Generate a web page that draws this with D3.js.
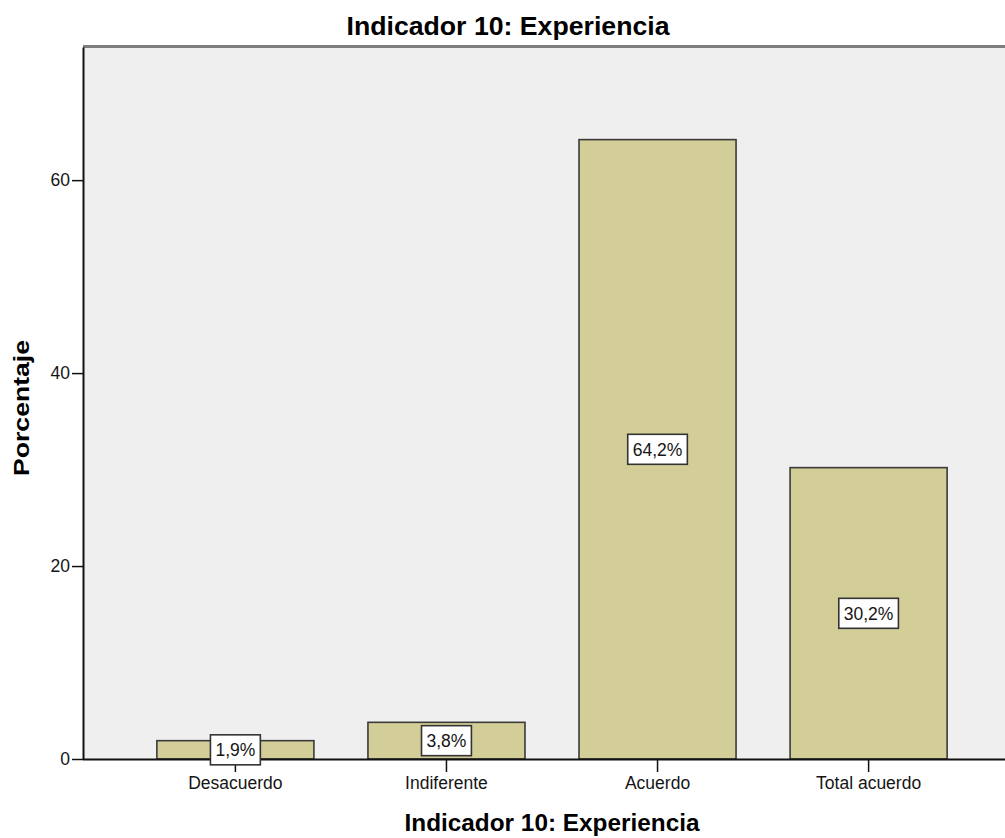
<!DOCTYPE html>
<html>
<head>
<meta charset="utf-8">
<script src="https://cdn.jsdelivr.net/npm/d3@7"></script>
<style>
  body { margin: 0; background: #fff; }
  text { font-family: "Liberation Sans", Arial, sans-serif; }
</style>
</head>
<body>
<div id="chart"></div>
<script>
// chart data
const categories = ["Desacuerdo", "Indiferente", "Acuerdo", "Total acuerdo"];
const percentages = [1.9, 3.8, 64.2, 30.2];
const valueLabels = ["1,9%", "3,8%", "64,2%", "30,2%"];
const yTicks = [0, 20, 40, 60];

const W = 1005, H = 838;
const plot = { left: 83, top: 47, bottom: 759, right: 1021 };

const svg = d3.select("#chart").append("svg")
  .attr("width", W)
  .attr("height", H);

// plot background
svg.append("rect")
  .attr("x", plot.left)
  .attr("y", plot.top)
  .attr("width", W - plot.left)
  .attr("height", plot.bottom - plot.top)
  .attr("fill", "#efefef");

svg.append("line")
  .attr("x1", plot.left).attr("x2", W)
  .attr("y1", plot.top - 0.5).attr("y2", plot.top - 0.5)
  .attr("stroke", "#7d7d7d")
  .attr("stroke-width", 3);

const x = d3.scaleBand()
  .domain(categories)
  .range([plot.left, plot.right])
  .paddingInner(0.256)
  .paddingOuter(0.35);

const y = d3.scaleLinear()
  .domain([0, 73.8])
  .range([plot.bottom, plot.top]);

// bars
svg.selectAll(".bar")
  .data(categories)
  .enter()
  .append("rect")
  .attr("class", "bar")
  .attr("x", d => x(d))
  .attr("y", (d, i) => y(percentages[i]))
  .attr("width", x.bandwidth())
  .attr("height", (d, i) => y(0) - y(percentages[i]))
  .attr("fill", "#d3ce97")
  .attr("stroke", "#3a3a3a")
  .attr("stroke-width", 1.6);

// axes
const xAxis = svg.append("g")
  .attr("transform", `translate(0, ${plot.bottom})`)
  .call(d3.axisBottom(x).tickSize(13).tickSizeOuter(0).tickPadding(5));
xAxis.select(".domain").attr("d", `M${plot.left},0.5H${W}`).attr("stroke", "#111").attr("stroke-width", 2);
xAxis.selectAll(".tick line").attr("stroke", "#111").attr("stroke-width", 1.5);
xAxis.selectAll("text")
  .style("font-size", "17.5px")
  .attr("fill", "#151515");

const yAxis = svg.append("g")
  .attr("transform", `translate(${plot.left}, 0)`)
  .call(d3.axisLeft(y).tickValues(yTicks).tickSize(11).tickSizeOuter(0).tickPadding(2));
yAxis.select(".domain").attr("stroke", "#111").attr("stroke-width", 2);
yAxis.selectAll(".tick line").attr("stroke", "#111").attr("stroke-width", 1.5);
yAxis.selectAll("text")
  .style("font-size", "17.5px")
  .attr("fill", "#151515");

// value labels
const labels = svg.selectAll(".val")
  .data(categories)
  .enter()
  .append("g")
  .attr("class", "val")
  .attr("transform", (d, i) =>
    `translate(${x(d) + x.bandwidth() / 2}, ${y(percentages[i] / 2)})`);

labels.append("text")
  .attr("text-anchor", "middle")
  .attr("dy", "0.36em")
  .style("font-size", "17.5px")
  .attr("fill", "#151515")
  .text((d, i) => valueLabels[i])
  .each(function () {
    const b = this.getBBox();
    d3.select(this.parentNode).insert("rect", "text")
      .attr("x", b.x - 5)
      .attr("y", -15)
      .attr("width", b.width + 10)
      .attr("height", 30)
      .attr("fill", "#fff")
      .attr("stroke", "#333")
      .attr("stroke-width", 1.6);
  });

// titles
svg.append("text")
  .attr("x", 508)
  .attr("y", 35)
  .attr("text-anchor", "middle")
  .attr("textLength", 323)
  .attr("lengthAdjust", "spacingAndGlyphs")
  .style("font-size", "25px")
  .style("font-weight", "bold")
  .text("Indicador 10: Experiencia");

svg.append("text")
  .attr("x", (plot.left + plot.right) / 2)
  .attr("y", 831)
  .attr("text-anchor", "middle")
  .attr("textLength", 295)
  .attr("lengthAdjust", "spacingAndGlyphs")
  .style("font-size", "23px")
  .style("font-weight", "bold")
  .text("Indicador 10: Experiencia");

svg.append("text")
  .attr("transform", `translate(29, 408) rotate(-90)`)
  .attr("text-anchor", "middle")
  .attr("textLength", 136)
  .attr("lengthAdjust", "spacingAndGlyphs")
  .style("font-size", "22px")
  .style("font-weight", "bold")
  .text("Porcentaje");
</script>
</body>
</html>
